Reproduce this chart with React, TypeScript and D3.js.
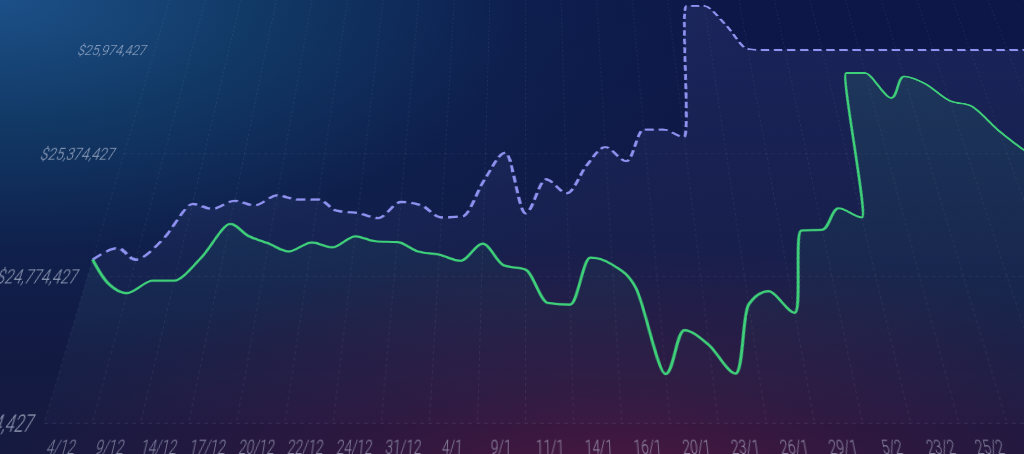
import React from 'react';
import * as d3 from 'd3';

// ---------- data ----------
const xLabels = ['4/12', '9/12', '14/12', '17/12', '20/12', '22/12', '24/12', '31/12', '4/1', '9/1', '11/1', '14/1', '16/1', '20/1', '23/1', '26/1', '29/1', '5/2', '23/2', '25/2', '1/3'];
const yTicks = [24174427, 24774427, 25374427, 25974427];

// blue dashed series
const benchmark = [
  24850000, 24903000, 24850000, 24943000, 25116000, 25092000, 25132000, 25109000, 25159000, 25138000,
  25138000, 25082000, 25071000, 25047000, 25126000, 25109000, 25050000, 25055000, 25240000, 25380000,
  25070000, 25240000, 25170000, 25310000, 25410000, 25335000, 25506000, 25506000, 25465000, 26260000,
  26260000, 26140000, 25980000, 25974000, 25974000, 25974000, 25974000, 25974000, 25974000, 25974000,
  25974000, 25974000, 25974000, 25974000, 25974000, 25974000, 25974000, 25974000, 25974000,
];
// green series
const portfolio = [
  24850000, 24745000, 24700000, 24755000, 24755000, 24860000, 25018000, 24960000, 24925000, 24888000,
  24930000, 24907000, 24959000, 24935000, 24932000, 24888000, 24873000, 24845000, 24924000, 24824000,
  24805000, 24657000, 24650000, 24860000, 24827000, 24723000, 24363000, 24541000, 24480000, 24365000,
  24650000, 24708000, 24615000, 24986000, 24991000, 25095000, 25050000, 25833000, 25833000, 25685000,
  25812000, 25768000, 25669000, 25640000, 25498000, 25385000, 25310000, 25250000, 25200000,
];

// ---------- layout ----------
const PERSP = 937.2;
const TILT = 30;
const OX = 525;
const OY = 423.3;
const PAD_T = 320;
const SVG_W = 1300;
const SVG_H = 820;
const PLOT_LEFT = 44.2;
const STEP = 24.07;
const GRID_STEP = 186.6;

export default function App() {
  const n = portfolio.length;
  const x = d3.scaleLinear().domain([0, n - 1]).range([PLOT_LEFT, PLOT_LEFT + STEP * (n - 1)]);
  const y = d3
    .scaleLinear()
    .domain([yTicks[0], yTicks[yTicks.length - 1]])
    .range([OY, OY - GRID_STEP * (yTicks.length - 1)]);
  const base = y(yTicks[0]);
  const line = d3
    .line<number>()
    .x((_, i) => x(i))
    .y((d) => y(d))
    .curve(d3.curveMonotoneX);
  const area = d3
    .area<number>()
    .x((_, i) => x(i))
    .y0(base)
    .y1((d) => y(d))
    .curve(d3.curveMonotoneX);
  const fmt = d3.format(',');
  const right = x(n - 1);
  const vIdx = d3.range(0, n, 2);

  return (
    <div
      style={{
        position: 'fixed',
        left: 0,
        top: 0,
        width: 1024,
        height: 454,
        overflow: 'hidden',
        background:
          'radial-gradient(ellipse 760px 360px at 0px 0px, rgba(28,80,136,1) 0%, rgba(18,62,106,0.85) 35%, rgba(14,40,86,0.4) 70%, rgba(14,30,70,0) 100%),' +
          'radial-gradient(ellipse 640px 260px at 620px 500px, rgba(84,24,64,0.95) 0%, rgba(62,22,62,0.6) 45%, rgba(40,20,60,0) 100%),' +
          'linear-gradient(180deg, #0d1748 0%, #111a44 60%, #151a40 100%)',
      }}
    >
      <svg
        width={SVG_W}
        height={SVG_H}
        style={{
          position: 'absolute',
          left: 0,
          top: -PAD_T,
          overflow: 'visible',
          transformOrigin: `${OX}px ${OY + PAD_T}px`,
          transform: `perspective(${PERSP}px) rotateX(${TILT}deg)`,
        }}
      >
        <defs>
          <linearGradient id="fillBlue" gradientUnits="userSpaceOnUse" x1="0" y1={-250} x2="0" y2={base}>
            <stop offset="0%" stopColor="rgb(150,150,255)" stopOpacity={0.1} />
            <stop offset="100%" stopColor="rgb(150,150,255)" stopOpacity={0.015} />
          </linearGradient>
          <linearGradient id="fillGreen" gradientUnits="userSpaceOnUse" x1="0" y1={-150} x2="0" y2={base}>
            <stop offset="0%" stopColor="rgb(60,210,130)" stopOpacity={0.13} />
            <stop offset="100%" stopColor="rgb(60,210,130)" stopOpacity={0} />
          </linearGradient>
        </defs>
        <g transform={`translate(0,${PAD_T})`}>
          {vIdx.map((i) => (
            <line
              key={'v' + i}
              x1={x(i)}
              x2={x(i)}
              y1={-320}
              y2={base}
              stroke="rgba(255,255,255,0.07)"
              strokeDasharray="4 4"
            />
          ))}
          {yTicks.map((t) => (
            <line
              key={'h' + t}
              x1={PLOT_LEFT}
              x2={right}
              y1={y(t)}
              y2={y(t)}
              stroke="rgba(255,255,255,0.09)"
              strokeDasharray="4 4"
            />
          ))}
          <path d={area(benchmark) || ''} fill="url(#fillBlue)" />
          <path d={area(portfolio) || ''} fill="url(#fillGreen)" />
          <path
            d={line(benchmark) || ''}
            fill="none"
            stroke="#8f92f0"
            strokeWidth={3.6}
            strokeDasharray="11 6"
          />
          <path d={line(portfolio) || ''} fill="none" stroke="#3fd07a" strokeWidth={3.2} />
          {yTicks.map((t) => (
            <text
              key={'yl' + t}
              transform={`translate(34,${y(t)}) scale(1,1.65)`}
              textAnchor="end"
              dominantBaseline="central"
              fontFamily="Roboto"
              fontWeight={300}
              fontSize={16.5}
              fill="rgba(200,208,228,0.72)"
            >
              {'$' + fmt(t)}
            </text>
          ))}
          {xLabels.map((lab, k) => (
            <text
              key={'xl' + k}
              transform={`translate(${x(2 * k + 1)},457.5) scale(1,1.7)`}
              textAnchor="middle"
              fontFamily="Roboto"
              fontWeight={300}
              fontSize={13.5}
              fill="rgba(190,198,220,0.62)"
            >
              {lab}
            </text>
          ))}
        </g>
      </svg>
    </div>
  );
}
